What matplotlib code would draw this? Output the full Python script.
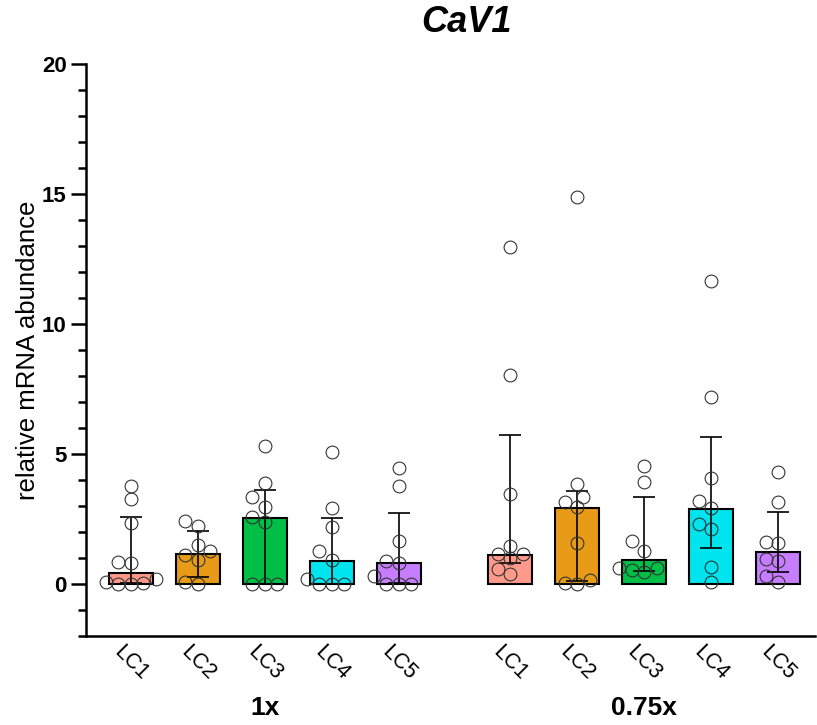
import numpy as np
import matplotlib
matplotlib.use("Agg")
import matplotlib.pyplot as plt

plt.rcParams["font.family"] = ["Liberation Sans", "DejaVu Sans"]

LINES = ["LC1", "LC2", "LC3", "LC4", "LC5"]
GROUPS = ["1x", "0.75x"]
COLORS = ["#FF9A8A", "#E89B17", "#00BF47", "#00E4EE", "#C77DFF"]

# bar height (median) and error bar ends
BAR_1X = [0.43, 1.17, 2.55, 0.87, 0.81]
ERR_LO_1X = [0.05, 0.28, 0.0, 0.0, 0.05]
ERR_HI_1X = [2.59, 2.04, 3.62, 2.55, 2.72]

BAR_075X = [1.12, 2.91, 0.92, 2.88, 1.22]
ERR_LO_075X = [0.79, 0.1, 0.51, 1.37, 0.45]
ERR_HI_075X = [5.73, 3.59, 3.36, 5.64, 2.76]

# individual replicates
PTS_1X = [
    [3.77, 3.28, 2.36, 0.83, 0.80, 0.19, 0.06, 0.03, 0.0, 0.0],
    [2.23, 2.41, 1.49, 1.26, 1.10, 0.92, 0.0, 0.07],
    [5.31, 3.90, 2.97, 3.33, 2.59, 2.40, 0.0, 0.0, 0.0],
    [5.09, 2.91, 2.20, 1.28, 0.92, 0.20, 0.0, 0.0, 0.0],
    [4.47, 3.78, 1.67, 0.82, 0.90, 0.32, 0.0, 0.0, 0.0],
]
PTS_075X = [
    [12.95, 8.03, 3.46, 1.46, 1.15, 1.15, 0.99, 0.57, 0.37],
    [14.87, 3.85, 3.36, 2.95, 3.14, 1.56, 0.15, 0.0, 0.05],
    [4.54, 3.94, 1.65, 1.28, 0.45, 0.60, 0.55, 0.60],
    [11.67, 7.19, 4.09, 3.19, 2.91, 2.31, 2.12, 0.64, 0.09],
    [4.29, 3.14, 1.56, 1.60, 0.90, 0.96, 0.31, 0.09],
]

GROUP_GAP = 5.66
BAR_W = 0.66
XLIM = (-0.67, 10.21)
YLIM = (-2, 20)


def swarm_offsets(values, px_x, px_y, diam, max_off):
    # place points one by one, nearest free slot to the centre line
    order = np.argsort(values)
    placed = []
    offs = np.zeros(len(values))
    step = diam / 2.0
    cands = [0.0]
    k = 1
    while k * step <= max_off:
        cands += [-k * step, k * step]
        k += 1
    for i in order:
        y = values[i] * px_y
        best, best_d = 0.0, -1
        for c in cands:
            d = min([np.hypot(c - px, y - py) for px, py in placed] or [1e9])
            if d >= diam * 0.95:
                best = c
                break
            if d > best_d:
                best, best_d = c, d
        placed.append((best, y))
        offs[i] = best / px_x
    return offs


fig = plt.figure(figsize=(8.17, 7.25), dpi=100)
ax = fig.add_axes([86 / 817, 1 - 636 / 725, (815 - 86) / 817, 572 / 725])
ax.set_xlim(*XLIM)
ax.set_ylim(*YLIM)

px_x = 729 / (XLIM[1] - XLIM[0])
px_y = 572 / (YLIM[1] - YLIM[0])

groups = [
    (BAR_1X, ERR_LO_1X, ERR_HI_1X, PTS_1X),
    (BAR_075X, ERR_LO_075X, ERR_HI_075X, PTS_075X),
]
positions = []
for g, (bars, lo, hi, pts) in enumerate(groups):
    xs = np.arange(len(LINES)) + g * GROUP_GAP
    positions.extend(xs)
    ax.bar(xs, bars, width=BAR_W, color=COLORS, edgecolor="black",
           linewidth=1.5, zorder=2)
    yerr = [np.array(bars) - np.array(lo), np.array(hi) - np.array(bars)]
    ax.errorbar(xs, bars, yerr=yerr, fmt="none", ecolor="black",
                elinewidth=1.2, capsize=8, capthick=1.2, zorder=3)
    for x, vals in zip(xs, pts):
        vals = np.array(vals)
        offs = swarm_offsets(vals, px_x, px_y, 12.5, 26)
        ax.plot(x + offs, vals, "o", ms=9.2, mfc="none", mec="#333333",
                mew=0.8, zorder=4, clip_on=False)

ax.spines["top"].set_visible(False)
ax.spines["right"].set_visible(False)
ax.spines["left"].set_linewidth(1.8)
ax.spines["bottom"].set_linewidth(1.8)

ax.set_yticks([0, 5, 10, 15, 20])
ax.set_yticks(np.arange(-2, 21, 1), minor=True)
ax.tick_params(axis="y", which="major", length=11, width=1.8, labelsize=16, pad=3)
ax.tick_params(axis="y", which="minor", length=6, width=1.8)
for lbl in ax.get_yticklabels():
    lbl.set_fontweight("bold")

ax.set_xticks(positions)
ax.set_xticklabels(LINES * 2, rotation=-45, ha="center", va="top", fontsize=15.5)
ax.tick_params(axis="x", length=0, pad=4)

ax.set_ylabel("relative mRNA abundance", fontsize=18.5)
ax.yaxis.set_label_coords(-0.063, 0.5)

for g, name in enumerate(GROUPS):
    ax.annotate(name, xy=(2 + g * GROUP_GAP, 0), xycoords=("data", "figure fraction"),
                xytext=(0, 17), textcoords="offset pixels",
                ha="center", va="center", fontsize=19, fontweight="bold")

fig.text(466 / 817, 1 - 23 / 725, "CaV1", ha="center", va="center",
         fontsize=26, fontweight="bold", fontstyle="italic")

fig.savefig("out.png", dpi=100)
